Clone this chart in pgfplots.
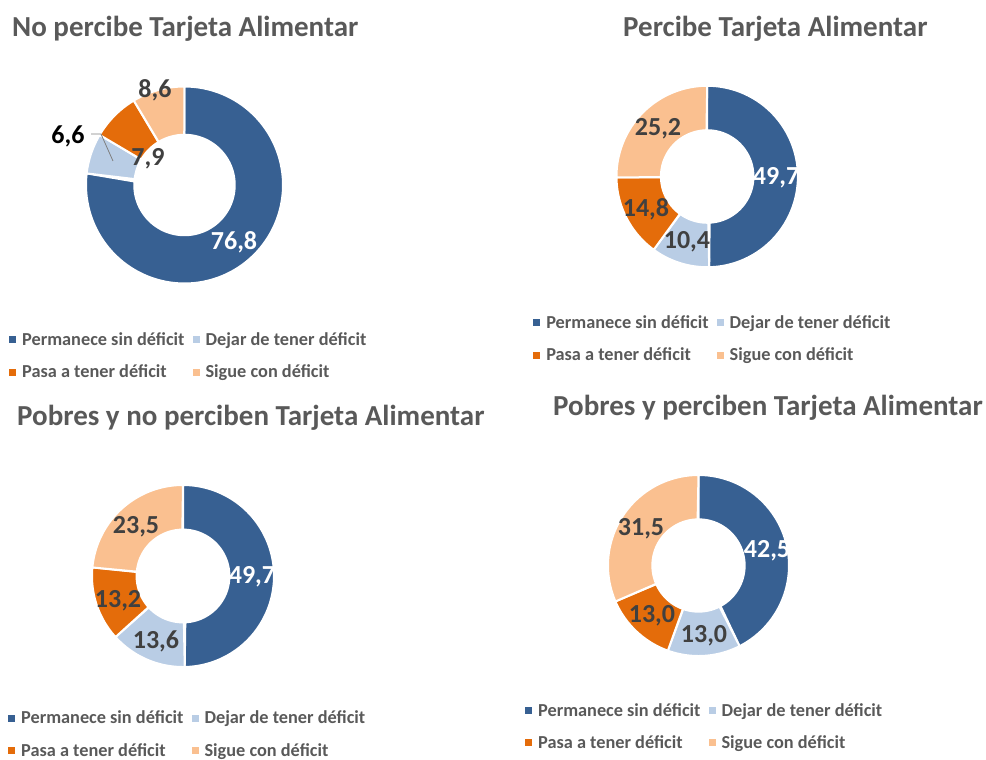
\documentclass[border=0pt]{standalone}
\usepackage{fontspec}
\setmainfont{Carlito}
\usepackage{pgfplots}
\pgfplotsset{compat=1.18}

\definecolor{cDark}{HTML}{376092}
\definecolor{cLight}{HTML}{B9CDE5}
\definecolor{cOrange}{HTML}{E46C0A}
\definecolor{cPeach}{HTML}{FAC090}
\definecolor{cTitle}{HTML}{595959}
\definecolor{cLab}{HTML}{404040}

\def\rin{0.51}

\tikzset{
  ttl/.style={anchor=base west, inner sep=0pt, text=cTitle, font=\bfseries\fontsize{29}{29}\selectfont},
  lab/.style={inner sep=0pt, text=cLab, font=\bfseries\fontsize{26}{26}\selectfont},
}

\pgfplotsset{
  donut/.style={hide axis, clip=false, xmin=-1, xmax=1, ymin=-1, ymax=1, anchor=origin,
    legend columns=2, legend cell align=left,
    legend image code/.code={\fill[##1, draw=none] (0pt,-3.5pt) rectangle (7pt,3.5pt);},
    legend style={draw=none, fill=none, anchor=north west, inner sep=0pt,
      font=\bfseries\fontsize{18.3}{21}\selectfont, text=cTitle,
      row sep=14pt,
      /tikz/every odd column/.style={column sep=4pt},
      /tikz/every even column/.style={column sep=6pt}},
  }
}

% one ring segment between two cumulative percentages
\newcommand\seg[4]{%
  \addplot[fill=#1, draw=white, line width=2pt, domain=0:2, samples=201, variable=\t]
    ({(\t<=1 ? 1 : \rin)*cos(90-3.6*(\t<=1 ? #2+(#3-#2)*\t : #3-(#3-#2)*(\t-1)))},
     {(\t<=1 ? 1 : \rin)*sin(90-3.6*(\t<=1 ? #2+(#3-#2)*\t : #3-(#3-#2)*(\t-1)))}) -- cycle;
  \addlegendentry{#4}}

% values: permanece, dejar, pasa, sigue
\newcommand\donut[4]{%
  \pgfmathsetmacro\tot{#1+#2+#3+#4}%
  \pgfmathsetmacro\pA{100*(#1)/\tot}%
  \pgfmathsetmacro\pB{100*(#1+#2)/\tot}%
  \pgfmathsetmacro\pC{100*(#1+#2+#3)/\tot}%
  \edef\next{%
    \noexpand\seg{cDark}{0}{\pA}{Permanece sin déficit}%
    \noexpand\seg{cLight}{\pA}{\pB}{Dejar de tener déficit}%
    \noexpand\seg{cOrange}{\pB}{\pC}{Pasa a tener déficit}%
    \noexpand\seg{cPeach}{\pC}{100}{Sigue con déficit}}%
  \next}

\begin{document}
\begin{tikzpicture}
\path (0pt,0pt) rectangle (986pt,-760pt);

% No percibe
\node[ttl] at (12pt,-37pt) {No percibe Tarjeta Alimentar};
\begin{axis}[donut, at={(184.5pt,-185pt)}, x=98.5pt, y=98.5pt,
  legend style={at={(-0.391,-0.238)}}]
  \donut{76.8}{6.6}{7.9}{8.6}
  \draw[gray, line width=0.8pt] (axis cs:-0.949,0.518) -- (axis cs:-0.848,0.518) -- (axis cs:-0.726,0.244);
  \node[lab] at (axis cs:-0.30,0.964) {8,6};
  \node[lab, text=black] at (axis cs:-1.183,0.497) {6,6};
  \node[lab] at (axis cs:-0.371,0.264) {7,9};
  \node[lab, text=white] at (axis cs:0.503,-0.579) {76,8};
\end{axis}

% Percibe
\node[ttl] at (623pt,-37pt) {Percibe Tarjeta Alimentar};
\begin{axis}[donut, at={(707.2pt,-176.5pt)}, x=90.7pt, y=90.7pt,
  legend style={at={(-0.46,-0.255)}}]
  \donut{49.7}{10.4}{14.8}{25.2}
  \node[lab, text=white] at (axis cs:0.759,-0.011) {49,7};
  \node[lab] at (axis cs:-0.542,0.524) {25,2};
  \node[lab] at (axis cs:-0.675,-0.358) {14,8};
  \node[lab] at (axis cs:-0.223,-0.722) {10,4};
\end{axis}

% Pobres y no perciben
\node[ttl] at (17pt,-425pt) {Pobres y no perciben Tarjeta Alimentar};
\begin{axis}[donut, at={(183pt,-576pt)}, x=91pt, y=91pt,
  legend style={at={(-0.462,-0.230)}}]
  \donut{49.7}{13.6}{13.2}{23.5}
  \node[lab, text=white] at (axis cs:0.758,-0.011) {49,7};
  \node[lab] at (axis cs:-0.516,0.538) {23,5};
  \node[lab] at (axis cs:-0.714,-0.275) {13,2};
  \node[lab] at (axis cs:-0.297,-0.714) {13,6};
\end{axis}

% Pobres y perciben
\node[ttl] at (553pt,-415pt) {Pobres y perciben Tarjeta Alimentar};
\begin{axis}[donut, at={(698.5pt,-565.5pt)}, x=90.5pt, y=90.5pt,
  legend style={at={(-0.459,-0.249)}}]
  \donut{42.5}{13.0}{13.0}{31.5}
  \node[lab, text=white] at (axis cs:0.757,0.160) {42,5};
  \node[lab] at (axis cs:-0.635,0.403) {31,5};
  \node[lab] at (axis cs:-0.514,-0.558) {13,0};
  \node[lab] at (axis cs:0.061,-0.779) {13,0};
\end{axis}

\pgfresetboundingbox
\path (0pt,0pt) rectangle (986pt,-760pt);
\end{tikzpicture}
\end{document}
